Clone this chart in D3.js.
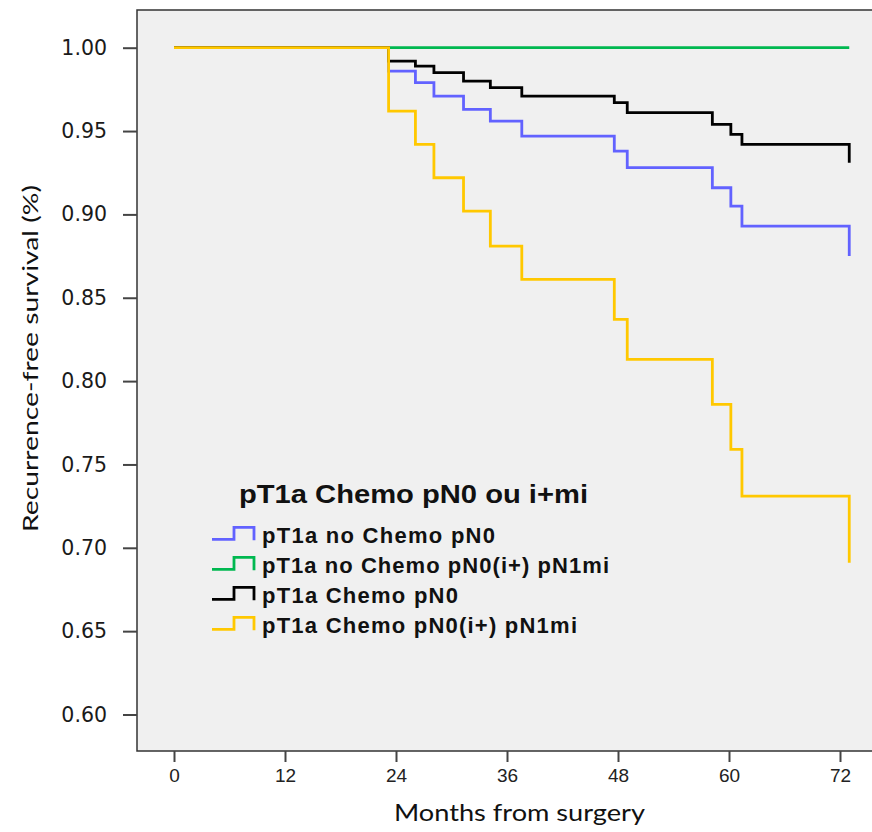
<!DOCTYPE html>
<html>
<head>
<meta charset="utf-8">
<script src="https://d3js.org/d3.v7.min.js"></script>
<style>
  body { margin: 0; background: #fff; }
</style>
</head>
<body>
<div id="graph"></div>
<script>
// months where the curves step down
const months = [0, 23.2, 26.1, 28.1, 31.3, 34.2, 37.6, 47.6, 49.0, 58.2, 60.2, 61.4, 73.0];
const noChemoPN0 = [1, 0.986, 0.979, 0.971, 0.963, 0.956, 0.947, 0.938, 0.928, 0.916, 0.905, 0.893, 0.875];
const chemoPN0 = [1, 0.992, 0.989, 0.985, 0.980, 0.976, 0.971, 0.967, 0.961, 0.954, 0.948, 0.942, 0.931];
const chemoPN0i = [1, 0.962, 0.942, 0.922, 0.902, 0.881, 0.861, 0.837, 0.813, 0.786, 0.759, 0.731, 0.691];
const noChemoPN0iMonths = [0, 73.0];
const noChemoPN0i = [1, 1];

const xTicks = [0, 12, 24, 36, 48, 60, 72];
const yTicks = [0.60, 0.65, 0.70, 0.75, 0.80, 0.85, 0.90, 0.95, 1.00];

const legendTitle = 'pT1a Chemo pN0 ou i+mi';
const legendNames = ['pT1a no Chemo pN0', 'pT1a no Chemo pN0(i+) pN1mi', 'pT1a Chemo pN0', 'pT1a Chemo pN0(i+) pN1mi'];
const legendWidths = [233, 347, 196, 315];
const colors = ['#6262ff', '#00b850', '#000000', '#ffc800'];

const w = 872;
const h = 832;

const xScale = d3.scaleLinear().domain([0, 72]).range([174, 840]);
const yScale = d3.scaleLinear().domain([0.60, 1.00]).range([714.5, 47.7]);

const svg = d3.select('#graph').append('svg').attr('width', w).attr('height', h);

// plot frame
svg.append('rect')
    .attr('x', 137).attr('y', 10).attr('width', 760).attr('height', 741)
    .attr('fill', '#f0f0f0').attr('stroke', '#333').attr('stroke-width', 1.5);

const xAxis = d3.axisBottom(xScale).tickValues(xTicks).tickSize(11).tickPadding(7).tickFormat(d3.format('d'));
const yAxis = d3.axisLeft(yScale).tickValues(yTicks).tickSize(14).tickPadding(16).tickFormat(d3.format('.2f'));

const gx = svg.append('g').attr('transform', 'translate(0,751)').call(xAxis);
gx.select('.domain').remove();
gx.selectAll('.tick line').attr('stroke', '#444').attr('stroke-width', 2);
gx.selectAll('.tick text').attr('font-family', 'Liberation Sans, Arial').attr('font-size', 19).attr('fill', '#222');

const gy = svg.append('g').attr('transform', 'translate(137,0)').call(yAxis);
gy.select('.domain').remove();
gy.selectAll('.tick line').attr('stroke', '#444').attr('stroke-width', 2);
gy.selectAll('.tick text').attr('font-family', 'DejaVu Sans').attr('font-size', 20.5).attr('fill', '#1a1a1a');

svg.append('text')
    .attr('x', 519.5).attr('y', 821).attr('text-anchor', 'middle')
    .attr('font-family', 'Lato').attr('font-size', 24).attr('fill', '#111')
    .attr('textLength', 251).attr('lengthAdjust', 'spacingAndGlyphs')
    .text('Months from surgery');

svg.append('text')
    .attr('transform', 'translate(38,358.5) rotate(-90)').attr('text-anchor', 'middle')
    .attr('font-family', 'Lato').attr('font-size', 22).attr('fill', '#111')
    .attr('textLength', 347).attr('lengthAdjust', 'spacingAndGlyphs')
    .text('Recurrence-free survival (%)');

// survival curves
const line = d3.line().curve(d3.curveStepAfter).x((d) => xScale(d[0])).y((d) => yScale(d[1]));
const series = [
  { xs: months, ys: noChemoPN0, color: colors[0] },
  { xs: noChemoPN0iMonths, ys: noChemoPN0i, color: colors[1] },
  { xs: months, ys: chemoPN0, color: colors[2] },
  { xs: months, ys: chemoPN0i, color: colors[3] }
];
const drawOrder = [1, 0, 2, 3];
drawOrder.forEach((i) => {
  const s = series[i];
  svg.append('path')
      .datum(s.xs.map((m, j) => [m, s.ys[j]]))
      .attr('d', line)
      .attr('fill', 'none').attr('stroke', s.color).attr('stroke-width', 2.8);
});

// legend
svg.append('text')
    .attr('x', 239).attr('y', 503)
    .attr('font-family', 'Liberation Sans, Arial').attr('font-weight', 'bold').attr('font-size', 25).attr('fill', '#111')
    .attr('textLength', 349).attr('lengthAdjust', 'spacingAndGlyphs')
    .text(legendTitle);

const rows = svg.selectAll('.legend-row').data(legendNames).enter().append('g')
    .attr('class', 'legend-row')
    .attr('transform', (d, i) => 'translate(0,' + (543.3 + i * 30) + ')');
rows.append('path')
    .attr('d', 'M212,-4H234V-16H254V-3')
    .attr('fill', 'none').attr('stroke', (d, i) => colors[i]).attr('stroke-width', 2.8);
rows.append('text')
    .attr('x', 262).attr('y', 0)
    .attr('font-family', 'Liberation Sans, Arial').attr('font-weight', 'bold').attr('font-size', 22).attr('fill', '#111')
    .attr('textLength', (d, i) => legendWidths[i]).attr('lengthAdjust', 'spacing')
    .text((d) => d);
</script>
</body>
</html>
